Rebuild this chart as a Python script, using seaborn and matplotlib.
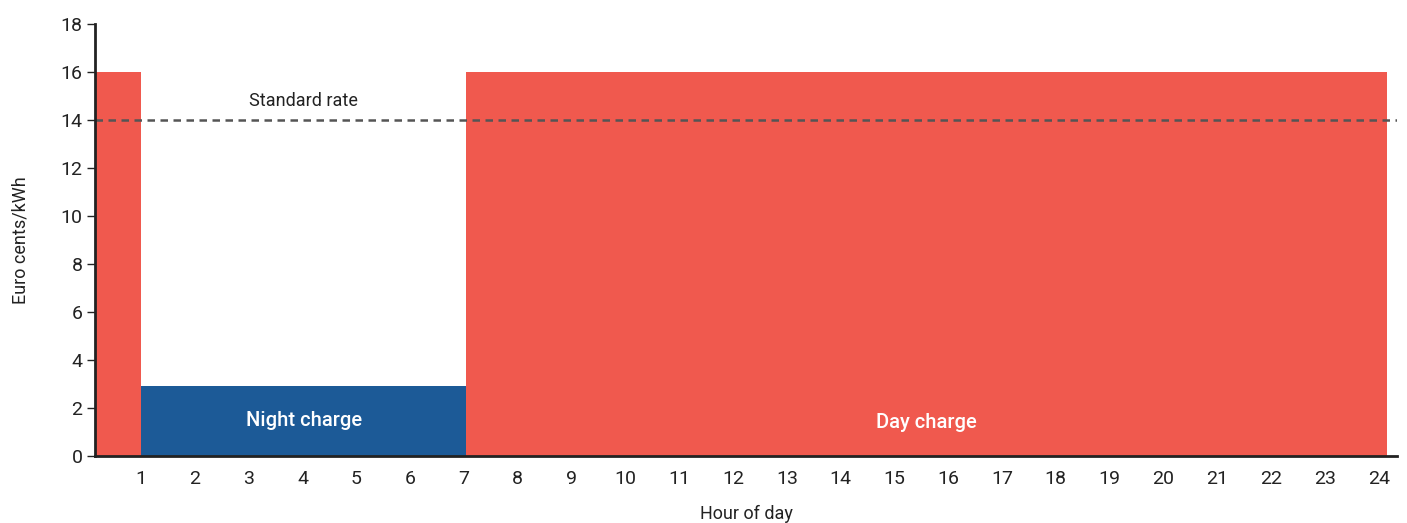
import matplotlib
matplotlib.use("Agg")
import matplotlib.pyplot as plt
import seaborn as sns
import pandas as pd

# hourly tariff (hour ending 1..24)
hours = list(range(1, 25))
rates = [16] + [2.9] * 6 + [16] * 17
period = ["Day"] + ["Night"] * 6 + ["Day"] * 17
standard_rate = 14

df = pd.DataFrame({"hour": [h - 0.5 for h in hours], "rate": rates, "period": period})

sns.set_style("white")
plt.rcParams["font.family"] = ["Roboto", "DejaVu Sans"]

fig = plt.figure(figsize=(14.07, 5.23), dpi=100)
ax = fig.add_axes([0.0675, 0.128, 0.9255, 0.826])

sns.histplot(data=df, x="hour", weights="rate", hue="period", bins=list(range(0, 25)),
             palette={"Day": "#F0594E", "Night": "#1C5A97"}, alpha=1, linewidth=0,
             legend=False, ax=ax)

ax.axhline(standard_rate, color="#555555", linestyle=(0, (3, 2.2)), linewidth=1.8)
ax.text(4, 14.4, "Standard rate", ha="center", va="bottom", fontsize=13, color="#222222")
ax.text(4, 1.5, "Night charge", ha="center", va="center", fontsize=14.5, color="white",
        fontweight="medium")
ax.text(15.5, 1.4, "Day charge", ha="center", va="center", fontsize=14.5, color="white",
        fontweight="medium")

ax.set_xlim(0.15, 24.18)
ax.set_ylim(0, 18)
# labels sit a touch left of the hour boundaries toward the right end
ax.set_xticks([1 + (h - 1) * 0.993 for h in hours])
ax.set_xticklabels([str(h) for h in hours], fontsize=14, color="#222222")
ax.set_yticks(range(0, 19, 2))
ax.set_yticklabels([str(v) for v in range(0, 19, 2)], fontsize=14, color="#222222")
ax.tick_params(axis="x", length=0, pad=10)
ax.tick_params(axis="y", length=6, width=1, color="#222222", pad=3, left=True)

for s in ["top", "right"]:
    ax.spines[s].set_visible(False)
for s in ["left", "bottom"]:
    ax.spines[s].set_color("#222222")
    ax.spines[s].set_linewidth(2)

ax.set_xlabel("Hour of day", fontsize=13, color="#222222", labelpad=12)
ax.set_ylabel("Euro cents/kWh", fontsize=13, color="#222222", labelpad=22)

fig.savefig("out.png", dpi=100)
